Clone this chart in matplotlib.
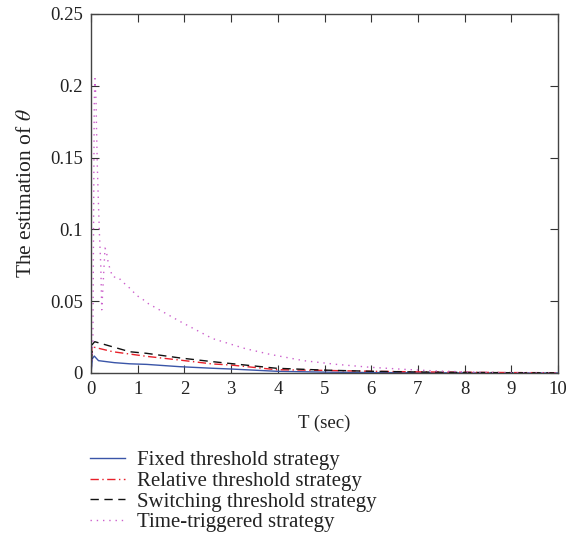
import matplotlib
matplotlib.use("Agg")
import matplotlib.pyplot as plt

plt.rcParams['font.family'] = ['Liberation Serif', 'DejaVu Serif']
plt.rcParams['mathtext.fontset'] = 'stix'

# Data
t_fixed = [0, 0.03, 0.07, 0.16, 0.5, 0.83, 1.19, 1.9, 2.6, 2.98, 3.97, 5, 6, 7, 8, 9, 10]
y_fixed = [0, 0.010, 0.0118, 0.0086, 0.0072, 0.0064, 0.0060, 0.0044, 0.0033, 0.0028, 0.0012, 0.0006, 0.0003, 0.0002, 0.0001, 0.00005, 0.0]

t_rel = [0, 0.02, 0.47, 1.19, 1.9, 2.6, 2.98, 3.97, 5, 6, 7, 8, 9, 10]
y_rel = [0, 0.0183, 0.0148, 0.0116, 0.0090, 0.0063, 0.0056, 0.0023, 0.0018, 0.0012, 0.0008, 0.0005, 0.0003, 0.0002]

t_sw = [0, 0.03, 0.08, 0.83, 1.19, 1.9, 2.6, 3.97, 5, 6, 7, 8, 9, 10]
y_sw = [0, 0.020, 0.0218, 0.0148, 0.0137, 0.0105, 0.0079, 0.0033, 0.0020, 0.0012, 0.0007, 0.0004, 0.0002, 0.0001]

t_time = [0, 0.04, 0.07, 0.085, 0.107, 0.12, 0.135, 0.157, 0.18, 0.21, 0.23, 0.30, 0.33, 0.37, 0.46, 0.59,
          0.67, 0.80, 0.98, 1.12, 1.19, 1.9, 2.6, 3.3, 3.83, 4.55, 5.26, 5.97, 6.68, 7.4, 8.1, 8.8, 9.5, 10]
y_time = [0, 0.02, 0.19, 0.205, 0.19, 0.167, 0.144, 0.12, 0.097, 0.074, 0.044, 0.087, 0.0845, 0.0764, 0.067, 0.0664,
          0.0636, 0.060, 0.054, 0.051, 0.049, 0.036, 0.024, 0.017, 0.013, 0.0086, 0.006, 0.004, 0.0026, 0.0014, 0.0007, 0.0002, 0.0001, 0.0]

labels = ["Fixed threshold strategy", "Relative threshold strategy",
          "Switching threshold strategy", "Time-triggered strategy"]
xticks = [0, 1, 2, 3, 4, 5, 6, 7, 8, 9, 10]
yticks = [0, 0.05, 0.1, 0.15, 0.2, 0.25]
ytick_labels = ["0", "0.05", "0.1", "0.15", "0.2", "0.25"]

fig = plt.figure(figsize=(5.66, 5.34), dpi=100)
ax = fig.add_axes([0.1608, 0.3015, 0.8251, 0.6723])

l1, = ax.plot(t_fixed, y_fixed, color='#3a55a8', lw=1.0, ls='-')
l2, = ax.plot(t_rel, y_rel, color='#e8202a', lw=1.0, ls=(0, (6, 2.5, 1, 2.5)))
l3, = ax.plot(t_sw, y_sw, color='#111111', lw=1.0, ls=(0, (6, 4)))
l4, = ax.plot(t_time, y_time, color='#cc60cc', lw=1.0, ls=(0, (1, 3.5)))

ax.set_xlim(0, 10)
ax.set_ylim(0, 0.25)
ax.set_xticks(xticks)
ax.set_xticklabels([str(v) for v in xticks])
ax.set_yticks(yticks)
ax.set_yticklabels(ytick_labels)
ax.tick_params(direction='in', top=True, right=True, length=6, width=0.8,
               labelsize=13.5, colors='#333333', labelcolor='#222222', pad=6)
for s in ax.spines.values():
    s.set_color('#444444')
    s.set_linewidth(1.0)

ax.set_xlabel("T (sec)", fontsize=13.5, color='#222222', labelpad=12)
ax.set_ylabel(r"The estimation of $\theta$", fontsize=15.5, color='#222222', labelpad=10)

fig.legend([l1, l2, l3, l4], labels, loc='upper left', bbox_to_anchor=(0.159, 0.156),
           frameon=False, fontsize=15, handlelength=1.7, handletextpad=0.58,
           labelspacing=0.05, borderpad=0, borderaxespad=0, labelcolor='#222222')

fig.savefig("out.png", dpi=100)
